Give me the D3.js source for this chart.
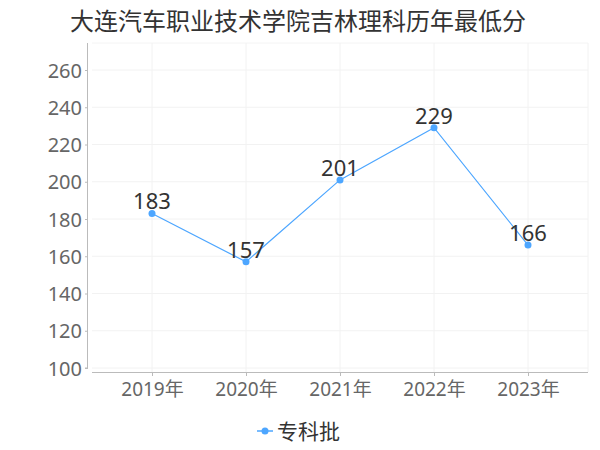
<!DOCTYPE html>
<html><head><meta charset="utf-8">
<script src="https://cdn.jsdelivr.net/npm/d3@7"></script>
<style>body{margin:0;background:#fff}</style>
</head><body><svg id="c" width="600" height="450"></svg>
<script>
const title = "大连汽车职业技术学院吉林理科历年最低分";
const categories = ["2019年","2020年","2021年","2022年","2023年"];
const seriesName = "专科批";
const values = [183,157,201,229,166];
const yTicks = [100,120,140,160,180,200,220,240,260];

(function(){
const font = "'Noto Sans','Noto Sans CJK SC',sans-serif";
const cjk = "'Noto Sans CJK SC',sans-serif";
const svg = d3.select("#c");
const pl = 88, pr = 588, pt = 43;
const x = d3.scalePoint().domain(categories).range([152, 528]);
const y = d3.scaleLinear().domain([100,260]).range([368,70]);
const color = "#4da6ff";

// grid
const g = svg.append("g");
g.selectAll(".hg").data(yTicks).join("line")
  .attr("x1", pl+4).attr("x2", pr).attr("y1", d=>y(d)).attr("y2", d=>y(d))
  .attr("stroke", "#f2f2f2").attr("stroke-width", 1);
g.append("line").attr("x1", pl+4).attr("x2", pr).attr("y1", pt).attr("y2", pt).attr("stroke","#f4f4f4");
g.selectAll(".vg").data(categories).join("line")
  .attr("x1", d=>x(d)).attr("x2", d=>x(d)).attr("y1", pt).attr("y2", 372)
  .attr("stroke", "#f2f2f2");
g.append("line").attr("x1", pr).attr("x2", pr).attr("y1", pt).attr("y2", 372).attr("stroke","#f2f2f2");

// y axis
const yAxis = d3.axisLeft(y).tickValues(yTicks).tickSize(3).tickPadding(3);
const ya = svg.append("g").attr("transform", `translate(${pl},0)`).call(yAxis);
ya.select(".domain").attr("d", `M-0.5,${pt}V${368}H-3`).attr("stroke","#bbb");
ya.selectAll(".tick line").attr("stroke","#bbb");
ya.selectAll("text").attr("fill","#666").style("font-size","20px").style("font-family",font).attr("dy","0.35em");

// x axis
const xAxis = d3.axisBottom(x).tickSize(4).tickPadding(7);
const xa = svg.append("g").attr("transform", `translate(0,372)`).call(xAxis);
xa.select(".domain").attr("d", `M${pl+4},0.5H${pr}`).attr("stroke","#bbb");
xa.selectAll(".tick line").attr("stroke","#bbb");
xa.selectAll("text").attr("fill","#666").style("font-size","19px").style("font-family",font);

// line
const line = d3.line().x((d,i)=>x(categories[i])).y(d=>y(d));
svg.append("path").datum(values).attr("d", line).attr("fill","none").attr("stroke",color).attr("stroke-width",1.2);
svg.selectAll(".pt").data(values).join("circle")
  .attr("cx",(d,i)=>x(categories[i])).attr("cy",d=>y(d)).attr("r",3.5).attr("fill",color);
svg.selectAll(".lbl").data(values).join("text")
  .attr("x",(d,i)=>x(categories[i])).attr("y",d=>y(d)-4)
  .attr("text-anchor","middle").attr("fill","#333").style("font-size","22px").style("font-family",font)
  .text(d=>d);

// title
svg.append("text").attr("x",298).attr("y",30).attr("text-anchor","middle")
  .attr("fill","#333").style("font-size","24px").style("font-family",cjk).text(title);

// legend
const lg = svg.append("g");
lg.append("line").attr("x1",257).attr("x2",273).attr("y1",431).attr("y2",431).attr("stroke",color).attr("stroke-width",1.5);
lg.append("circle").attr("cx",265).attr("cy",431).attr("r",3.5).attr("fill",color);
lg.append("text").attr("x",277).attr("y",439).attr("fill","#333").style("font-size","21px")
  .style("font-family",cjk).text(seriesName);
})();
</script></body></html>
